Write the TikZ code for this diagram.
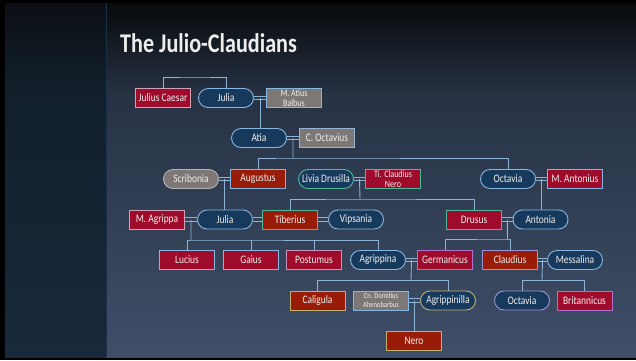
\documentclass[tikz,border=0pt]{standalone}
\usepackage{fontspec}
\setmainfont{Carlito}[FakeStretch=0.82]
\usetikzlibrary{calc}
\definecolor{crim}{HTML}{9E0B2B}
\definecolor{rust}{HTML}{981C08}
\definecolor{navy}{HTML}{173A5C}
\definecolor{stone}{HTML}{7D7875}
\definecolor{txt}{HTML}{EEEEEE}
\definecolor{lnk}{HTML}{8DB3D6}
\definecolor{bblue}{HTML}{86B6E2}
\definecolor{bteal}{HTML}{4FB89A}
\definecolor{bpink}{HTML}{CFA2B8}
\definecolor{bpurp}{HTML}{B070CC}
\definecolor{blav}{HTML}{9C94D8}
\definecolor{btan}{HTML}{C4B070}
\definecolor{bgrey}{HTML}{B4B4B4}
\definecolor{bga}{HTML}{08090B}
\definecolor{bgb}{HTML}{141A22}
\definecolor{bgc}{HTML}{273244}
\definecolor{bgd}{HTML}{3F4F68}
\definecolor{pna}{HTML}{0B0F14}
\definecolor{pnb}{HTML}{13202C}
\definecolor{pnc}{HTML}{17293B}
\definecolor{sep}{HTML}{1A3048}
\newcommand{\wed}[3]{%
  \draw[link] ([yshift=1.8pt]#1.east) -- ([yshift=1.8pt]#2.west);
  \draw[link] ([yshift=-1.8pt]#1.east) -- ([yshift=-1.8pt]#2.west);
  \coordinate (#3) at ($(#1.east)!0.5!(#2.west)$);}
\begin{document}
\begin{tikzpicture}[x=1pt,y=-1pt,
  person/.style={minimum width=55pt,minimum height=19pt,inner sep=0pt,
    line width=0.9pt,text=txt,font=\fontsize{11.5}{12}\selectfont},
  box/.style={person,rectangle},
  oval/.style={person,rounded corners=9.5pt},
  small/.style={align=center,font=\fontsize{9.8}{9.6}\selectfont},
  tiny/.style={align=center,font=\fontsize{8}{8.6}\selectfont},
  link/.style={draw=lnk,line width=0.9pt}]
\useasboundingbox (0,0) rectangle (636,360);
% background
\fill[black] (0,0) rectangle (636,360);
\shade[top color=bga,bottom color=bgb] (106,3) rectangle (636,40);
\shade[top color=bgb,bottom color=bgc] (106,40) rectangle (636,95);
\shade[top color=bgc,bottom color=bgd] (106,95) rectangle (636,357);
\shade[top color=pna,bottom color=pnb] (5,3) rectangle (106,90);
\shade[top color=pnb,bottom color=pnc] (5,90) rectangle (106,357);
\draw[sep,line width=0.6pt] (106,3) -- (106,357);
% title
\node[anchor=base west,inner sep=0pt,text=txt,font=\fontsize{27}{30}\selectfont\bfseries] (title) at (120,52) {The Julio-Claudians};
% generation 1
\node[box,fill=crim,draw=bpink] (caesar) at (163,98) {Julius Caesar};
\node[oval,fill=navy,draw=bblue] (julia1) at (226,98) {Julia};
\node[box,fill=stone,draw=bblue,small] (balbus) at (294,98) {M. Atius\\Balbus};
\node[oval,fill=navy,draw=bblue] (atia) at (259,138) {Atia};
\node[box,fill=stone,draw=bblue!70!bgrey] (octavius) at (327,138) {C. Octavius};
% generation 3
\node[oval,fill=stone,draw=bgrey] (scribonia) at (191,179) {Scribonia};
\node[box,fill=rust,draw=bblue] (augustus) at (258,179) {Augustus};
\node[oval,fill=navy,draw=bteal] (livia) at (326,179) {Livia Drusilla};
\node[box,fill=crim,draw=bteal,small] (ticn) at (393,179) {Ti. Claudius\\Nero};
\node[oval,fill=navy,draw=bblue] (octavia1) at (508,179) {Octavia};
\node[box,fill=crim,draw=bblue] (antonius) at (575,179) {M. Antonius};
% generation 4
\node[box,fill=crim,draw=bpink] (agrippa) at (157,219.5) {M. Agrippa};
\node[oval,fill=navy,draw=bblue] (julia2) at (225,219.5) {Julia};
\node[box,fill=rust,draw=bteal] (tiberius) at (290,219.5) {Tiberius};
\node[oval,fill=navy,draw=bblue!80!bgrey] (vipsania) at (356,219.5) {Vipsania};
\node[box,fill=crim,draw=bteal] (drusus) at (474,219.5) {Drusus};
\node[oval,fill=navy,draw=bblue] (antonia) at (540.5,219.5) {Antonia};
% generation 5
\node[box,fill=crim,draw=bblue] (lucius) at (187,260) {Lucius};
\node[box,fill=crim,draw=bblue] (gaius) at (251,260) {Gaius};
\node[box,fill=crim,draw=bpink!70!bpurp] (postumus) at (314,260) {Postumus};
\node[oval,fill=navy,draw=bblue] (agrippina) at (378,260) {Agrippina};
\node[box,fill=crim,draw=bpurp] (germanicus) at (445,260) {Germanicus};
\node[box,fill=rust,draw=blav] (claudius) at (510,260) {Claudius};
\node[oval,fill=navy,draw=bblue] (messalina) at (575,260) {Messalina};
% generation 6
\node[box,fill=rust,draw=btan] (caligula) at (317.5,300.5) {Caligula};
\node[box,fill=stone,draw=bblue,tiny] (cnd) at (381,300.5) {Cn. Domitius\\Ahenobarbus};
\node[oval,fill=navy,draw=btan] (agrippinilla) at (448,300.5) {Agrippinilla};
\node[oval,fill=navy,draw=blav] (octavia2) at (522,300.5) {Octavia};
\node[box,fill=crim,draw=bpurp] (britannicus) at (584.5,300.5) {Britannicus};
\node[box,fill=rust,draw=btan] (nero) at (414,340.5) {Nero};
% marriages
\wed{julia1}{balbus}{m1}
\wed{atia}{octavius}{m2}
\wed{scribonia}{augustus}{m3}
\wed{livia}{ticn}{m4}
\wed{octavia1}{antonius}{m5}
\wed{agrippa}{julia2}{m6}
\wed{julia2}{tiberius}{m6b}
\wed{tiberius}{vipsania}{m6c}
\wed{drusus}{antonia}{m7}
\wed{agrippina}{germanicus}{m8}
\wed{cnd}{agrippinilla}{m9}
\wed{claudius}{messalina}{m10}
% bars
\coordinate (sib) at (195,77);
\coordinate (b2) at (293,158);
\coordinate (b4) at (360,199);
\coordinate (b6) at (191,240);
\coordinate (b7) at (507.5,239);
\coordinate (b8) at (411,280);
\coordinate (b10) at (542,280);
% descent
\draw[link] (caesar.north) |- (sib) -| (julia1.north);
\draw[link] (m1) -- (m1 |- atia.north);
\draw[link] (m2) -- (b2);
\draw[link] (augustus.north) |- (b2) -| (octavia1.north);
\draw[link] (m3) -- (m3 |- julia2.north);
\draw[link] (m4) -- (b4);
\draw[link] (tiberius.north) |- (b4) -| (drusus.north);
\draw[link] (m5) -- (m5 |- antonia.north);
\draw[link] (m6) -- (b6);
\draw[link] (lucius.north) |- (b6) -| (agrippina.north);
\draw[link] (gaius.north) -- (gaius.north |- b6);
\draw[link] (postumus.north) -- (postumus.north |- b6);
\draw[link] (m7) -- (b7);
\draw[link] (germanicus.north) |- (b7) -| (claudius.north);
\draw[link] (m8) -- (b8);
\draw[link] (caligula.north) |- (b8) -| (agrippinilla.north);
\draw[link] (m9) -- (m9 |- nero.north);
\draw[link] (m10) -- (b10);
\draw[link] (octavia2.north) |- (b10) -| (britannicus.north);
\end{tikzpicture}
\end{document}
